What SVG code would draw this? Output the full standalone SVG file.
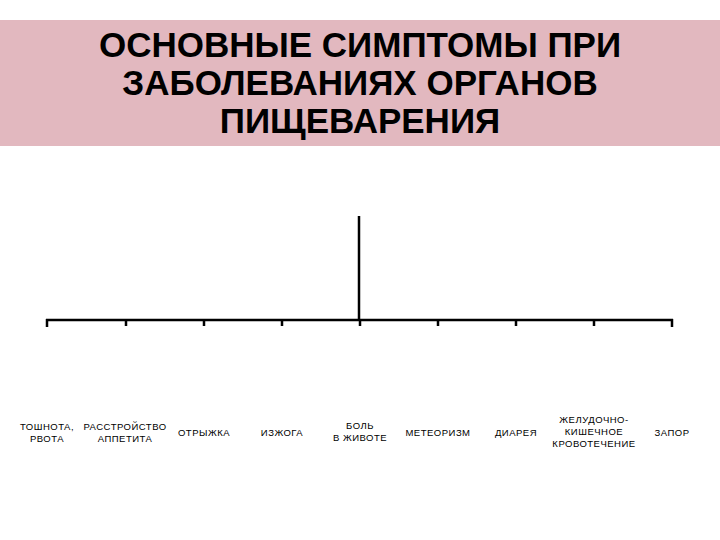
<svg xmlns="http://www.w3.org/2000/svg" width="720" height="540" viewBox="0 0 720 540">
<style>
.title{font-family:"Liberation Sans",Arial,sans-serif;font-weight:bold;font-size:35px;fill:#000;text-anchor:middle}
.lbl{font-family:"Liberation Sans",Arial,sans-serif;font-size:9.5px;letter-spacing:0.5px;fill:#000;text-anchor:middle}
.ln{stroke:#000;stroke-width:2.5;fill:none}
</style>
<rect x="0" y="0" width="720" height="540" fill="#fff"/>
<g id="title">
<rect x="0" y="20" width="720" height="126" fill="#E2B8BF"/>
<text class="title" x="360" y="57">ОСНОВНЫЕ СИМПТОМЫ ПРИ</text>
<text class="title" x="360" y="95">ЗАБОЛЕВАНИЯХ ОРГАНОВ</text>
<text class="title" x="360" y="133">ПИЩЕВАРЕНИЯ</text>
</g>
<g id="connectors" class="ln">
<line x1="359" y1="216" x2="359" y2="320"/>
<line x1="46" y1="320" x2="673" y2="320"/>
<line x1="47" y1="319" x2="47" y2="327"/>
<line x1="126" y1="319" x2="126" y2="326"/>
<line x1="204" y1="319" x2="204" y2="326"/>
<line x1="282" y1="319" x2="282" y2="326"/>
<line x1="360" y1="319" x2="360" y2="326"/>
<line x1="438" y1="319" x2="438" y2="326"/>
<line x1="516" y1="319" x2="516" y2="326"/>
<line x1="594" y1="319" x2="594" y2="326"/>
<line x1="672" y1="319" x2="672" y2="327"/>
</g>
<g id="n1"><text class="lbl" x="47" y="430">ТОШНОТА,</text><text class="lbl" x="47" y="442">РВОТА</text></g>
<g id="n2"><text class="lbl" x="125" y="430">РАССТРОЙСТВО</text><text class="lbl" x="125" y="442">АППЕТИТА</text></g>
<g id="n3"><text class="lbl" x="204" y="436">ОТРЫЖКА</text></g>
<g id="n4"><text class="lbl" x="282" y="436">ИЗЖОГА</text></g>
<g id="n5"><text class="lbl" x="360" y="429">БОЛЬ</text><text class="lbl" x="360" y="441">В ЖИВОТЕ</text></g>
<g id="n6"><text class="lbl" x="438" y="436">МЕТЕОРИЗМ</text></g>
<g id="n7"><text class="lbl" x="516" y="436">ДИАРЕЯ</text></g>
<g id="n8"><text class="lbl" x="594" y="423">ЖЕЛУДОЧНО-</text><text class="lbl" x="594" y="435">КИШЕЧНОЕ</text><text class="lbl" x="594" y="447">КРОВОТЕЧЕНИЕ</text></g>
<g id="n9"><text class="lbl" x="672" y="436">ЗАПОР</text></g>
</svg>
